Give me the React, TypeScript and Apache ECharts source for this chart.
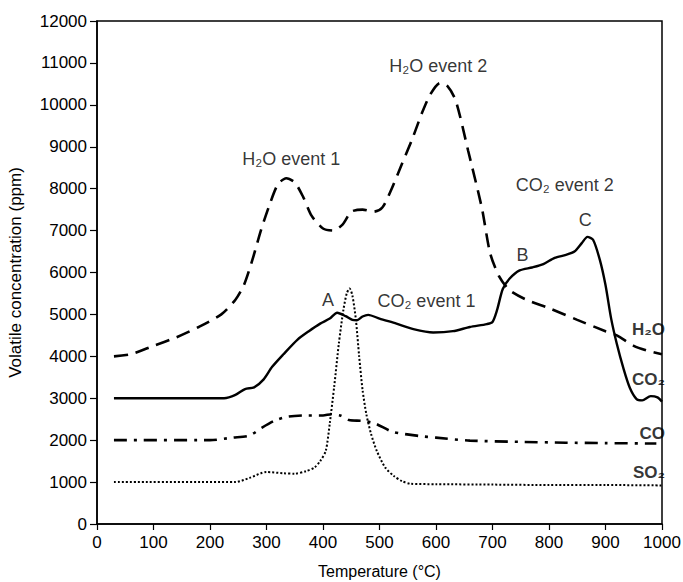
import React, { useEffect, useRef } from "react";
import * as echarts from "echarts";

// Temperature (°C) and concentration (ppm) readings for each gas
const h2oT = [30, 60, 100, 140, 180, 220, 245, 260, 275, 290, 305, 320, 335, 350, 365, 380, 400, 418, 435, 450, 470, 490, 505, 520, 540, 557, 575, 590, 607, 620, 635, 657, 681, 696, 712, 730, 760, 800, 850, 900, 920, 950, 975, 1000];
const h2oV = [4000, 4050, 4250, 4450, 4700, 5000, 5350, 5700, 6300, 7000, 7600, 8100, 8250, 8150, 7800, 7350, 7050, 7000, 7150, 7450, 7500, 7450, 7550, 7950, 8600, 9150, 9800, 10250, 10520, 10450, 10100, 8900, 7550, 6450, 5900, 5580, 5350, 5150, 4870, 4600, 4500, 4250, 4130, 4050];

const co2T = [30, 225, 245, 262, 278, 295, 310, 330, 355, 375, 395, 412, 425, 440, 452, 460, 470, 480, 500, 530, 560, 595, 630, 660, 690, 700, 708, 718, 730, 748, 770, 790, 810, 830, 845, 858, 868, 878, 890, 900, 910, 920, 932, 943, 955, 965, 980, 992, 1000];
const co2V = [3000, 3000, 3080, 3220, 3260, 3450, 3750, 4050, 4400, 4600, 4780, 4900, 5040, 4960, 4870, 4860, 4950, 4990, 4900, 4780, 4650, 4570, 4600, 4700, 4770, 4820, 5100, 5600, 5850, 6050, 6120, 6200, 6350, 6420, 6500, 6700, 6850, 6780, 6300, 5700, 4900, 4300, 3700, 3250, 2980, 2950, 3050, 3020, 2920];

const coT = [30, 200, 240, 270, 292, 315, 338, 370, 400, 415, 432, 446, 470, 492, 523, 570, 600, 660, 750, 830, 900, 990];
const coV = [2000, 2000, 2060, 2110, 2300, 2470, 2560, 2590, 2590, 2620, 2580, 2480, 2460, 2400, 2200, 2100, 2060, 1990, 1960, 1940, 1930, 1920];

const so2T = [30, 245, 270, 300, 330, 350, 370, 385, 395, 405, 412, 420, 428, 436, 442, 447, 452, 458, 464, 470, 477, 485, 495, 510, 525, 540, 555, 600, 700, 800, 900, 1000];
const so2V = [1000, 1000, 1100, 1240, 1210, 1200, 1260, 1350, 1500, 1750, 2400, 3300, 4300, 5100, 5500, 5620, 5450, 4900, 4000, 3200, 2600, 2150, 1750, 1350, 1150, 1020, 960, 950, 940, 930, 930, 920];

// In-plot annotations: text, temperature, concentration
const noteText = ["H₂O event 1", "H₂O event 2", "CO₂ event 2", "C", "B", "A", "CO₂ event 1"];
const noteT = [344, 604, 828, 864, 753, 409, 583];
const noteV = [8700, 10930, 8090, 7260, 6420, 5350, 5330];

// Curve labels at the right edge
const endText = ["H₂O", "CO₂", "CO", "SO₂"];
const endV = [4630, 3440, 2170, 1240];
const endT = 1000;

const xTicks = { min: 0, max: 1000, interval: 100 };
const yTicks = { min: 0, max: 12000, interval: 1000 };

const FONT = "Liberation Sans, Arial, Helvetica, sans-serif";

const zip = (t: number[], v: number[]) => t.map((x, i) => [x, v[i]]);

export default function App() {
  const ref = useRef<HTMLDivElement>(null);
  useEffect(() => {
    if (!ref.current) return;
    const chart = echarts.init(ref.current, null, { renderer: "svg" });
    const black = "#000";
    const line = (name: string, t: number[], v: number[], type: any, width: number) => ({
      name,
      type: "line",
      data: zip(t, v),
      smooth: 0.25,
      showSymbol: false,
      symbol: "none",
      lineStyle: { color: black, width, type, cap: "butt" },
      z: 3,
    });
    chart.setOption({
      animation: false,
      backgroundColor: "#fff",
      textStyle: { fontFamily: FONT },
      grid: {
        left: 97,
        right: 21,
        top: 21,
        bottom: 58,
        containLabel: false,
        outerBoundsMode: "none",
        show: true,
        borderColor: black,
        borderWidth: 1.5,
        backgroundColor: "transparent",
      },
      xAxis: {
        type: "value",
        ...xTicks,
        name: "Temperature (°C)",
        nameLocation: "middle",
        nameGap: 39,
        nameTextStyle: { fontSize: 16, color: black, fontFamily: FONT },
        axisLine: { show: true, lineStyle: { color: black, width: 1.5 } },
        axisTick: { show: true, length: 6, lineStyle: { color: black, width: 1.2 } },
        axisLabel: { fontSize: 17, color: black, margin: 10, fontFamily: FONT, formatter: (v: number) => String(v) },
        splitLine: { show: false },
      },
      yAxis: {
        type: "value",
        ...yTicks,
        name: "Volatile concentration (ppm)",
        nameLocation: "middle",
        nameRotate: 90,
        nameGap: 73,
        nameTextStyle: { fontSize: 17, color: black, fontFamily: FONT },
        axisLine: { show: true, lineStyle: { color: black, width: 1.5 } },
        axisTick: { show: true, length: 7, lineStyle: { color: black, width: 1.2 } },
        axisLabel: { fontSize: 17, color: black, margin: 10, fontFamily: FONT, formatter: (v: number) => String(v) },
        splitLine: { show: false },
      },
      series: [
        line("H2O", h2oT, h2oV, [14, 8], 2.6),
        line("CO2", co2T, co2V, "solid", 2.4),
        line("CO", coT, coV, [13, 7, 3, 7], 2.6),
        line("SO2", so2T, so2V, [2, 2], 2),
        {
          name: "notes",
          type: "scatter",
          symbolSize: 0,
          silent: true,
          data: noteText.map((s, i) => ({ value: [noteT[i], noteV[i]], name: s })),
          label: {
            show: true,
            position: "inside",
            formatter: (p: any) => p.name,
            fontSize: 18,
            color: black,
            fontFamily: FONT,
          },
          z: 5,
        },
        {
          name: "ends",
          type: "scatter",
          symbolSize: 0,
          silent: true,
          data: endText.map((s, i) => ({ value: [endT, endV[i]], name: s })),
          label: {
            show: true,
            position: "left",
            distance: -3,
            formatter: (p: any) => p.name,
            fontSize: 17,
            fontWeight: "bold",
            color: black,
            fontFamily: FONT,
          },
          z: 5,
        },
      ],
    });
    return () => chart.dispose();
  }, []);
  return <div ref={ref} style={{ position: "absolute", left: 0, top: 0, width: 683, height: 582 }} />;
}
